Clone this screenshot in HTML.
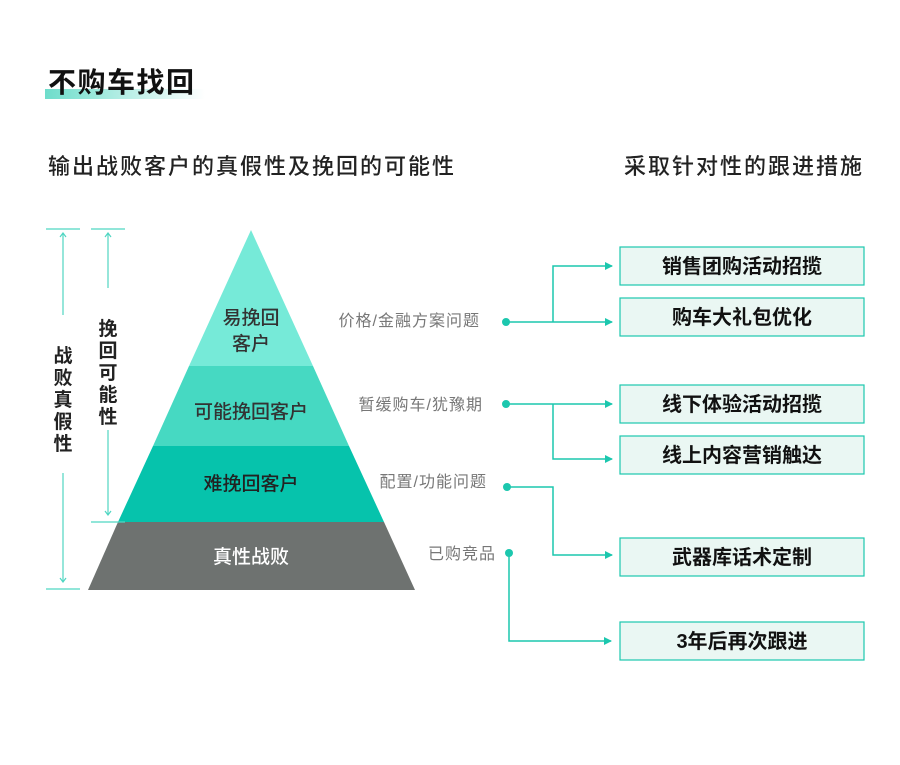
<!DOCTYPE html>
<html><head><meta charset="utf-8"><style>
body{margin:0;background:#fff}
svg text{font-family:"Liberation Sans","Noto Sans CJK SC",sans-serif}
</style></head><body>
<svg width="900" height="760" viewBox="0 0 900 760" xmlns="http://www.w3.org/2000/svg">
<defs>
<linearGradient id="g" x1="0" x2="1"><stop offset="0" stop-color="#6EDDCB"/><stop offset="1" stop-color="#6EDDCB" stop-opacity="0"/></linearGradient>
<marker id="a" markerWidth="8" markerHeight="8" refX="7" refY="4" orient="auto" markerUnits="userSpaceOnUse"><path d="M0,0 L8,4 L0,8 z" fill="#1CC7AE"/></marker>
</defs>
<rect x="45" y="89" width="160" height="10" fill="url(#g)"/>
<text x="48" y="92" font-size="28" font-weight="bold" letter-spacing="1.5" fill="#111">不购车找回</text>
<text x="48" y="174" font-size="22" font-weight="500" letter-spacing="2" fill="#222">输出战败客户的真假性及挽回的可能性</text>
<text x="864" y="174" font-size="22" font-weight="500" letter-spacing="2" fill="#222" text-anchor="end">采取针对性的跟进措施</text>

<polygon points="251,230 313,366 189,366" fill="#76EAD8"/>
<polygon points="189,366 313,366 349,446 153,446" fill="#46D9C2"/>
<polygon points="153,446 349,446 384,522 118,522" fill="#06C3AC"/>
<polygon points="118,522 384,522 415,590 88,590" fill="#6E7270"/>
<g font-size="19" font-weight="500" text-anchor="middle">
<text x="251" y="324" fill="#333">易挽回</text>
<text x="251" y="350" fill="#333">客户</text>
<text x="251" y="418" fill="#333">可能挽回客户</text>
<text x="251" y="490" fill="#222">难挽回客户</text>
<text x="251" y="563" fill="#fff">真性战败</text>
</g>

<g stroke="#4FD6C2" stroke-width="1.2" fill="none">
<line x1="46" y1="229" x2="80" y2="229"/><line x1="46" y1="589" x2="80" y2="589"/>
<line x1="91" y1="229" x2="125" y2="229"/><line x1="91" y1="522" x2="125" y2="522"/>
<line x1="63" y1="233" x2="63" y2="315"/><line x1="63" y1="473" x2="63" y2="582"/>
<path d="M60,237 L63,233 L66,237 M60,578 L63,582 L66,578"/>
<line x1="108" y1="233" x2="108" y2="288"/><line x1="108" y1="430" x2="108" y2="515"/>
<path d="M105,237 L108,233 L111,237 M105,511 L108,515 L111,511"/>
</g>
<g font-size="19" font-weight="bold" text-anchor="middle" fill="#222">
<text x="63" y="362">战</text><text x="63" y="384">败</text><text x="63" y="406">真</text><text x="63" y="428">假</text><text x="63" y="450">性</text>
<text x="108" y="335">挽</text><text x="108" y="357">回</text><text x="108" y="379">可</text><text x="108" y="401">能</text><text x="108" y="423">性</text>
</g>

<g font-size="16" fill="#777" text-anchor="end" letter-spacing="1">
<text x="480" y="326">价格/金融方案问题</text>
<text x="483" y="410">暂缓购车/犹豫期</text>
<text x="487" y="487">配置/功能问题</text>
<text x="496" y="559">已购竞品</text>
</g>
<g fill="#1CC7AE"><circle cx="506" cy="322" r="4"/><circle cx="506" cy="404" r="4"/><circle cx="507" cy="487" r="4"/><circle cx="509" cy="553" r="4"/></g>
<g stroke="#1CC7AE" stroke-width="1.5" fill="none">
<polyline points="506,322 612,322" marker-end="url(#a)"/>
<polyline points="553,322 553,266 612,266" marker-end="url(#a)"/>
<polyline points="506,404 612,404" marker-end="url(#a)"/>
<polyline points="553,404 553,459 612,459" marker-end="url(#a)"/>
<polyline points="507,487 553,487 553,555 612,555" marker-end="url(#a)"/>
<polyline points="509,553 509,641 611,641" marker-end="url(#a)"/>
</g>
<g fill="#EAF7F3" stroke="#1CC7AE" stroke-width="1.2">
<rect x="620" y="247" width="244" height="38"/><rect x="620" y="298" width="244" height="38"/>
<rect x="620" y="385" width="244" height="38"/><rect x="620" y="436" width="244" height="38"/>
<rect x="620" y="538" width="244" height="38"/><rect x="620" y="622" width="244" height="38"/>
</g>
<g font-size="20" font-weight="bold" text-anchor="middle" fill="#111">
<text x="742" y="273">销售团购活动招揽</text>
<text x="742" y="324">购车大礼包优化</text>
<text x="742" y="411">线下体验活动招揽</text>
<text x="742" y="462">线上内容营销触达</text>
<text x="742" y="564">武器库话术定制</text>
<text x="742" y="648">3年后再次跟进</text>
</g>
</svg>
</body></html>
